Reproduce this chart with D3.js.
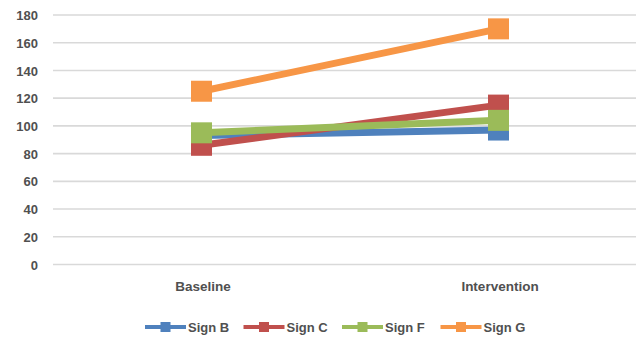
<!DOCTYPE html>
<html>
<head>
<meta charset="utf-8">
<script src="https://cdn.jsdelivr.net/npm/d3@7/dist/d3.min.js"></script>
<style>
html,body{margin:0;padding:0;background:#fff;}
svg{display:block;}
text{font-family:"Liberation Sans",Arial,sans-serif;font-weight:bold;fill:#505050;}
</style>
</head>
<body>
<svg id="chart" width="636" height="339"></svg>
<script>
const categories = ["Baseline", "Intervention"];
const seriesNames = ["Sign B", "Sign C", "Sign F", "Sign G"];
const signB = [93, 97];
const signC = [86, 115];
const signF = [95, 104];
const signG = [125, 170];
const seriesColors = ["#4f81bd", "#c0504d", "#9bbb59", "#f79646"];
const yTicks = [0, 20, 40, 60, 80, 100, 120, 140, 160, 180];

const series = [signB, signC, signF, signG].map((vals, i) => ({
  name: seriesNames[i], color: seriesColors[i], values: vals
}));

const svg = d3.select("#chart");
const x = d3.scalePoint().domain(categories).range([53, 647]).padding(0.5);
const y = d3.scaleLinear().domain([0, 180]).range([264.5, 15]);

// gridlines
svg.append("g").selectAll("line").data(yTicks).join("line")
  .attr("x1", 53).attr("x2", 636)
  .attr("y1", d => y(d)).attr("y2", d => y(d))
  .attr("stroke", "#d9d9d9").attr("stroke-width", 1.6);

// y axis labels
const yAxis = d3.axisLeft(y).tickValues(yTicks).tickSize(0).tickPadding(0);
const ya = svg.append("g").attr("transform", "translate(38,0)").call(yAxis);
ya.select(".domain").remove();
ya.selectAll("text").attr("font-size", 13).attr("dy", "0.35em")
  .style("font-family", '"Liberation Sans",Arial,sans-serif').style("font-weight", "bold").attr("fill", "#505050");

// x axis labels
const xAxis = d3.axisBottom(x).tickSize(0).tickPadding(0);
const xa = svg.append("g").attr("transform", "translate(1,281)").call(xAxis);
xa.select(".domain").remove();
xa.selectAll("text").attr("font-size", 13.5)
  .style("font-family", '"Liberation Sans",Arial,sans-serif').style("font-weight", "bold").attr("fill", "#505050");

// series
const line = d3.line().x((d, i) => x(categories[i])).y(d => y(d));
const ms = 21;
series.forEach(s => {
  const g = svg.append("g");
  g.append("path").attr("d", line(s.values)).attr("fill", "none")
    .attr("stroke", s.color).attr("stroke-width", 7);
  g.selectAll("rect").data(s.values).join("rect")
    .attr("x", (d, i) => x(categories[i]) - ms / 2)
    .attr("y", d => y(d) - ms / 2)
    .attr("width", ms).attr("height", ms)
    .attr("fill", s.color);
});

// legend
const lg = svg.append("g").attr("transform", "translate(145,327)");
series.forEach((s, i) => {
  const g = lg.append("g").attr("transform", `translate(${i * 98.5},0)`);
  g.append("line").attr("x1", 0).attr("x2", 41).attr("y1", 0).attr("y2", 0)
    .attr("stroke", s.color).attr("stroke-width", 4);
  g.append("rect").attr("x", 15.5).attr("y", -5).attr("width", 10).attr("height", 10).attr("fill", s.color);
  g.append("text").attr("x", 43).attr("y", 0).attr("dy", "0.35em").attr("font-size", 13).text(s.name);
});
</script>
</body>
</html>
